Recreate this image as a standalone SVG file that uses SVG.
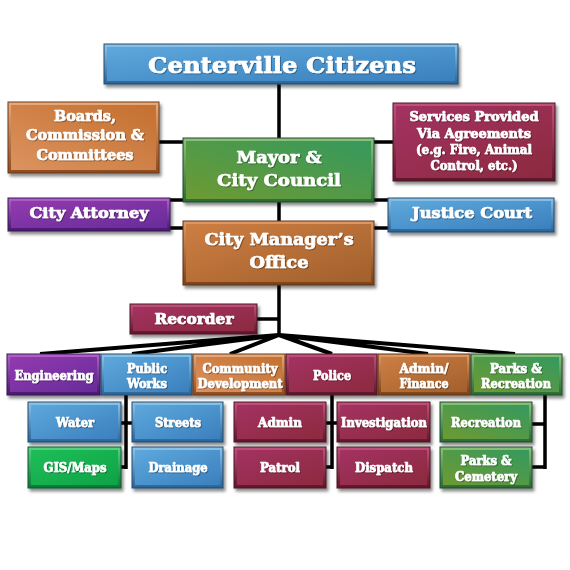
<svg xmlns="http://www.w3.org/2000/svg" width="570" height="570" viewBox="0 0 570 570">
<defs>
<linearGradient id="blue" x1="0" y1="0" x2="1" y2="1"><stop offset="0" stop-color="#5EA8DC"/><stop offset="1" stop-color="#3A80BE"/></linearGradient>
<linearGradient id="bluee" x1="0" y1="0" x2="0" y2="1"><stop offset="0" stop-color="#8CC4EA"/><stop offset="1" stop-color="#2A6498"/></linearGradient>
<linearGradient id="orange" x1="0" y1="1" x2="1" y2="0"><stop offset="0" stop-color="#DC9360"/><stop offset="1" stop-color="#C4702F"/></linearGradient>
<linearGradient id="orangee" x1="0" y1="0" x2="0" y2="1"><stop offset="0" stop-color="#EAAA7A"/><stop offset="1" stop-color="#8E4A1E"/></linearGradient>
<linearGradient id="brown" x1="0" y1="0" x2="1" y2="1"><stop offset="0" stop-color="#CD7E42"/><stop offset="1" stop-color="#A2602C"/></linearGradient>
<linearGradient id="browne" x1="0" y1="0" x2="0" y2="1"><stop offset="0" stop-color="#E09A66"/><stop offset="1" stop-color="#7A4218"/></linearGradient>
<linearGradient id="maroon" x1="0" y1="0" x2="1" y2="1"><stop offset="0" stop-color="#A33262"/><stop offset="1" stop-color="#8C2A3E"/></linearGradient>
<linearGradient id="maroone" x1="0" y1="0" x2="0" y2="1"><stop offset="0" stop-color="#C2527C"/><stop offset="1" stop-color="#5E162C"/></linearGradient>
<linearGradient id="purple" x1="0" y1="0" x2="1" y2="1"><stop offset="0" stop-color="#923AAE"/><stop offset="1" stop-color="#682C9A"/></linearGradient>
<linearGradient id="purplee" x1="0" y1="0" x2="0" y2="1"><stop offset="0" stop-color="#B262CA"/><stop offset="1" stop-color="#48186E"/></linearGradient>
<linearGradient id="green" x1="0" y1="1" x2="1" y2="0"><stop offset="0" stop-color="#6E9A32"/><stop offset="1" stop-color="#35995E"/></linearGradient>
<linearGradient id="greene" x1="0" y1="0" x2="0" y2="1"><stop offset="0" stop-color="#8CC27A"/><stop offset="1" stop-color="#2A6A36"/></linearGradient>
<linearGradient id="lime" x1="0" y1="0" x2="1" y2="1"><stop offset="0" stop-color="#1EBE58"/><stop offset="1" stop-color="#0EA346"/></linearGradient>
<linearGradient id="limee" x1="0" y1="0" x2="0" y2="1"><stop offset="0" stop-color="#56D486"/><stop offset="1" stop-color="#0A7634"/></linearGradient>
<filter id="sh" x="-10%" y="-10%" width="125%" height="140%"><feDropShadow dx="2" dy="3" stdDeviation="1.5" flood-color="#000" flood-opacity="0.45"/></filter>
<filter id="ts" x="-5%" y="-20%" width="110%" height="150%"><feDropShadow dx="0.8" dy="1" stdDeviation="0.6" flood-color="#000" flood-opacity="0.4"/></filter>
</defs>
<style>
.node .o{filter:url(#sh);stroke-width:1}
.t{font-family:"DejaVu Serif","Liberation Serif",serif;font-weight:bold;fill:#fff;stroke:#fff;stroke-width:0.7;stroke-linejoin:round;text-anchor:middle;filter:url(#ts)}
.c{stroke:#000;stroke-width:3.5;fill:none;stroke-linecap:butt}
.f{stroke-width:4}
.blue .o{fill:url(#bluee);stroke:#1E4A70}.blue .i{fill:url(#blue)}
.orange .o{fill:url(#orangee);stroke:#6A3A18}.orange .i{fill:url(#orange)}
.brown .o{fill:url(#browne);stroke:#5E3212}.brown .i{fill:url(#brown)}
.maroon .o{fill:url(#maroone);stroke:#4A1224}.maroon .i{fill:url(#maroon)}
.purple .o{fill:url(#purplee);stroke:#3A1458}.purple .i{fill:url(#purple)}
.green .o{fill:url(#greene);stroke:#1E4A2A}.green .i{fill:url(#green)}
.lime .o{fill:url(#limee);stroke:#0A5A28}.lime .i{fill:url(#lime)}
</style>
<rect width="570" height="570" fill="#fff"/>
<g id="connectors">
<path class="c" d="M279 84V139M158 142H183M374 142H393M170 200H183M374 200H388M170 228H183M374 228H388M279 202V222M279 285V335M257 319H279"/>
<path class="c f" d="M279 335L40 354M279 335L132 354M279 335L230 354M279 335L332 354M279 335L428 354M279 335L515 354"/>
<path class="c" d="M126 395V469M121 423H132M121 467H126M332 395V469M326 423H338M326 467H332M545 395V469M532 424H545M532 467H545"/>
</g>
<g id="n-citizens" class="node blue"><rect class="o" x="104" y="44" width="354" height="40"/><rect class="i" x="107" y="47" width="348" height="34"/><text class="t" x="282" y="73" font-size="23" textLength="268" lengthAdjust="spacingAndGlyphs">Centerville Citizens</text></g>
<g id="n-boards" class="node orange"><rect class="o" x="8" y="102" width="151" height="71"/><rect class="i" x="11" y="105" width="145" height="65"/><text class="t" font-size="14"><tspan x="85" y="120.5" textLength="62" lengthAdjust="spacingAndGlyphs">Boards,</tspan><tspan x="85" y="140" textLength="118" lengthAdjust="spacingAndGlyphs">Commission &amp;</tspan><tspan x="85" y="159.5" textLength="97" lengthAdjust="spacingAndGlyphs">Committees</tspan></text></g>
<g id="n-services" class="node maroon"><rect class="o" x="393" y="103" width="162" height="78"/><rect class="i" x="396" y="106" width="156" height="72"/><text class="t" font-size="12.5"><tspan x="474" y="121" textLength="129" lengthAdjust="spacingAndGlyphs">Services Provided</tspan><tspan x="474" y="138" textLength="114" lengthAdjust="spacingAndGlyphs">Via Agreements</tspan><tspan x="474" y="154" textLength="116" lengthAdjust="spacingAndGlyphs">(e.g. Fire, Animal</tspan><tspan x="474" y="170" textLength="87" lengthAdjust="spacingAndGlyphs">Control, etc.)</tspan></text></g>
<g id="n-mayor" class="node green"><rect class="o" x="183" y="138" width="191" height="64"/><rect class="i" x="186" y="141" width="185" height="58"/><text class="t" font-size="17"><tspan x="279" y="163" textLength="85" lengthAdjust="spacingAndGlyphs">Mayor &amp;</tspan><tspan x="279" y="186" textLength="124" lengthAdjust="spacingAndGlyphs">City Council</tspan></text></g>
<g id="n-attorney" class="node purple"><rect class="o" x="8" y="198" width="162" height="33"/><rect class="i" x="11" y="201" width="156" height="27"/><text class="t" x="89" y="218" font-size="15" textLength="119" lengthAdjust="spacingAndGlyphs">City Attorney</text></g>
<g id="n-justice" class="node blue"><rect class="o" x="388" y="198" width="166" height="34"/><rect class="i" x="391" y="201" width="160" height="28"/><text class="t" x="472" y="218" font-size="15" textLength="120" lengthAdjust="spacingAndGlyphs">Justice Court</text></g>
<g id="n-manager" class="node brown"><rect class="o" x="183" y="221" width="191" height="64"/><rect class="i" x="186" y="224" width="185" height="58"/><text class="t" font-size="17"><tspan x="279" y="245" textLength="149" lengthAdjust="spacingAndGlyphs">City Manager’s</tspan><tspan x="279" y="268" textLength="59" lengthAdjust="spacingAndGlyphs">Office</tspan></text></g>
<g id="n-recorder" class="node maroon"><rect class="o" x="130" y="304" width="127" height="30"/><rect class="i" x="133" y="307" width="121" height="24"/><text class="t" x="194" y="323.5" font-size="14" textLength="79" lengthAdjust="spacingAndGlyphs">Recorder</text></g>
<g id="n-engineering" class="node purple"><rect class="o" x="7" y="354" width="93" height="41"/><rect class="i" x="10" y="357" width="87" height="35"/><text class="t" x="54" y="380" font-size="12.5" textLength="79" lengthAdjust="spacingAndGlyphs">Engineering</text></g>
<g id="n-publicworks" class="node blue"><rect class="o" x="101" y="354" width="91" height="41"/><rect class="i" x="104" y="357" width="85" height="35"/><text class="t" font-size="12.5"><tspan x="147" y="372.5" textLength="40" lengthAdjust="spacingAndGlyphs">Public</tspan><tspan x="147" y="387.5" textLength="40" lengthAdjust="spacingAndGlyphs">Works</tspan></text></g>
<g id="n-community" class="node orange"><rect class="o" x="193" y="354" width="92" height="41"/><rect class="i" x="196" y="357" width="86" height="35"/><text class="t" font-size="12.5"><tspan x="240" y="372.5" textLength="75" lengthAdjust="spacingAndGlyphs">Community</tspan><tspan x="240" y="387.5" textLength="85" lengthAdjust="spacingAndGlyphs">Development</tspan></text></g>
<g id="n-police" class="node maroon"><rect class="o" x="286" y="354" width="91" height="41"/><rect class="i" x="289" y="357" width="85" height="35"/><text class="t" x="332" y="380" font-size="12.5" textLength="38" lengthAdjust="spacingAndGlyphs">Police</text></g>
<g id="n-adminfinance" class="node brown"><rect class="o" x="378" y="354" width="92" height="41"/><rect class="i" x="381" y="357" width="86" height="35"/><text class="t" font-size="12.5"><tspan x="424" y="372.5" textLength="49" lengthAdjust="spacingAndGlyphs">Admin/</tspan><tspan x="424" y="387.5" textLength="49" lengthAdjust="spacingAndGlyphs">Finance</tspan></text></g>
<g id="n-parksrec" class="node green"><rect class="o" x="471" y="354" width="91" height="41"/><rect class="i" x="474" y="357" width="85" height="35"/><text class="t" font-size="12.5"><tspan x="516" y="372.5" textLength="52" lengthAdjust="spacingAndGlyphs">Parks &amp;</tspan><tspan x="516" y="387.5" textLength="70" lengthAdjust="spacingAndGlyphs">Recreation</tspan></text></g>
<g id="n-water" class="node blue"><rect class="o" x="28" y="402" width="93" height="40"/><rect class="i" x="31" y="405" width="87" height="34"/><text class="t" x="75" y="426.5" font-size="12.5" textLength="38" lengthAdjust="spacingAndGlyphs">Water</text></g>
<g id="n-streets" class="node blue"><rect class="o" x="132" y="402" width="91" height="40"/><rect class="i" x="135" y="405" width="85" height="34"/><text class="t" x="178" y="426.5" font-size="12.5" textLength="46" lengthAdjust="spacingAndGlyphs">Streets</text></g>
<g id="n-gis" class="node lime"><rect class="o" x="28" y="447" width="93" height="41"/><rect class="i" x="31" y="450" width="87" height="35"/><text class="t" x="75" y="472" font-size="12.5" textLength="63" lengthAdjust="spacingAndGlyphs">GIS/Maps</text></g>
<g id="n-drainage" class="node blue"><rect class="o" x="132" y="447" width="91" height="41"/><rect class="i" x="135" y="450" width="85" height="35"/><text class="t" x="178" y="472" font-size="12.5" textLength="59" lengthAdjust="spacingAndGlyphs">Drainage</text></g>
<g id="n-admin" class="node maroon"><rect class="o" x="234" y="402" width="92" height="40"/><rect class="i" x="237" y="405" width="86" height="34"/><text class="t" x="280" y="426.5" font-size="12.5" textLength="44" lengthAdjust="spacingAndGlyphs">Admin</text></g>
<g id="n-investigation" class="node maroon"><rect class="o" x="337" y="402" width="93" height="40"/><rect class="i" x="340" y="405" width="87" height="34"/><text class="t" x="384" y="426.5" font-size="12.5" textLength="86" lengthAdjust="spacingAndGlyphs">Investigation</text></g>
<g id="n-patrol" class="node maroon"><rect class="o" x="234" y="447" width="92" height="41"/><rect class="i" x="237" y="450" width="86" height="35"/><text class="t" x="280" y="472" font-size="12.5" textLength="40" lengthAdjust="spacingAndGlyphs">Patrol</text></g>
<g id="n-dispatch" class="node maroon"><rect class="o" x="337" y="447" width="93" height="41"/><rect class="i" x="340" y="450" width="87" height="35"/><text class="t" x="384" y="472" font-size="12.5" textLength="58" lengthAdjust="spacingAndGlyphs">Dispatch</text></g>
<g id="n-recreation" class="node green"><rect class="o" x="440" y="402" width="92" height="40"/><rect class="i" x="443" y="405" width="86" height="34"/><text class="t" x="486" y="426.5" font-size="12.5" textLength="70" lengthAdjust="spacingAndGlyphs">Recreation</text></g>
<g id="n-parkscemetery" class="node green"><rect class="o" x="440" y="447" width="92" height="41"/><rect class="i" x="443" y="450" width="86" height="35"/><text class="t" font-size="12.5"><tspan x="486" y="465" textLength="51" lengthAdjust="spacingAndGlyphs">Parks &amp;</tspan><tspan x="486" y="481" textLength="62" lengthAdjust="spacingAndGlyphs">Cemetery</tspan></text></g>
</svg>
